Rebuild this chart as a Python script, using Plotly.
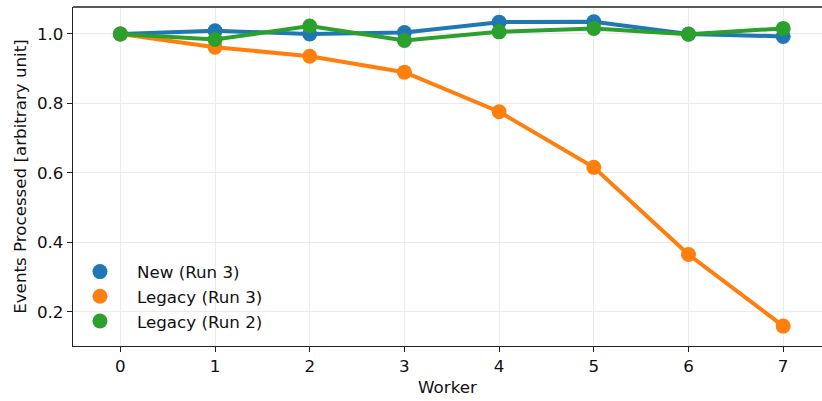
import plotly.graph_objects as go

workers = [0, 1, 2, 3, 4, 5, 6, 7]
new_run3 = [1.0, 1.009, 1.0, 1.004, 1.034, 1.035, 1.0, 0.993]
legacy_run3 = [1.0, 0.962, 0.936, 0.890, 0.776, 0.616, 0.365, 0.159]
legacy_run2 = [1.0, 0.984, 1.023, 0.981, 1.006, 1.016, 0.999, 1.016]

series = [
    ("New (Run 3)", new_run3, "#1f77b4"),
    ("Legacy (Run 3)", legacy_run3, "#ff7f0e"),
    ("Legacy (Run 2)", legacy_run2, "#2ca02c"),
]

FS = 16.7

fig = go.Figure()
for name, vals, color in series:
    fig.add_trace(go.Scatter(
        x=workers, y=vals, mode="lines+markers", name=name,
        line=dict(color=color, width=4),
        marker=dict(color=color, size=15),
        showlegend=False,
    ))
for name, vals, color in series:
    fig.add_trace(go.Scatter(
        x=[None], y=[None], mode="markers", name=name,
        marker=dict(color=color, size=15),
        showlegend=True,
    ))

axis_common = dict(
    showline=True, linecolor="#222", linewidth=1.3,
    ticks="outside", ticklen=5, tickwidth=1, tickcolor="#222",
    showgrid=True, gridcolor="#ebebeb", gridwidth=1,
    zeroline=False, automargin=False,
    tickfont=dict(family="DejaVu Sans", size=FS, color="#111"),
)

fig.update_layout(
    width=822, height=401,
    margin=dict(l=73, r=0, t=7, b=55),
    paper_bgcolor="white", plot_bgcolor="white",
    font=dict(family="DejaVu Sans", size=FS, color="#111"),
    xaxis=dict(
        range=[-0.5, 7.41], tickmode="array", tickvals=workers,
        title=dict(text="Worker", font=dict(size=FS), standoff=6),
        **axis_common,
    ),
    yaxis=dict(
        range=[0.1017, 1.0776], tickmode="array",
        tickvals=[0.2, 0.4, 0.6, 0.8, 1.0], ticktext=["0.2", "0.4", "0.6", "0.8", "1.0"],
        title=dict(text="Events Processed [arbitrary unit]", font=dict(size=FS), standoff=6),
        **axis_common,
    ),
    legend=dict(
        x=-0.0134, y=0.02, xanchor="left", yanchor="bottom",
        bgcolor="rgba(255,255,255,0)", borderwidth=0,
        font=dict(family="DejaVu Sans", size=FS, color="#111"),
        itemwidth=64, tracegroupgap=0,
    ),
)
# top spine
fig.add_shape(type="line", xref="paper", yref="paper", x0=0, x1=1, y0=1, y1=1,
              line=dict(color="#222", width=1.3))

fig.write_html("out.html", config={"displayModeBar": False},
               post_script="document.body.style.margin='0px';")
